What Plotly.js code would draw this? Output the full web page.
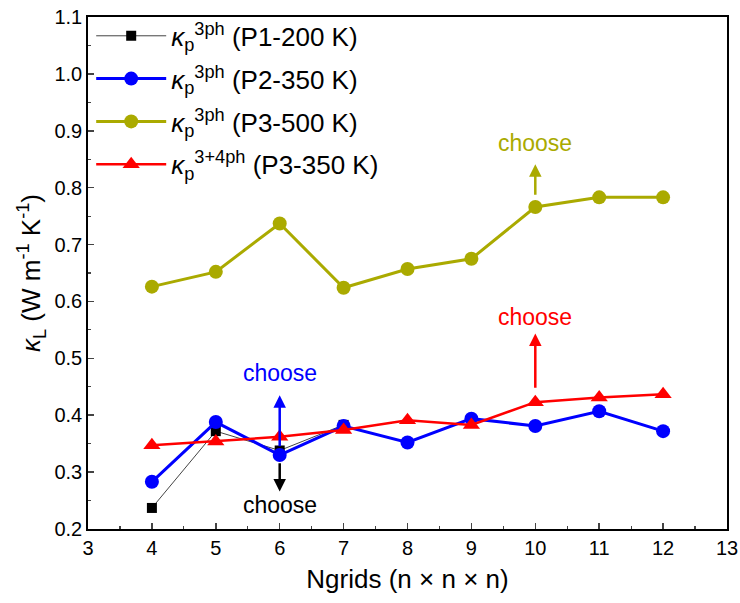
<!DOCTYPE html>
<html>
<head>
<meta charset="utf-8">
<script src="https://cdn.plot.ly/plotly-3.0.1.min.js"></script>
<style>html,body{margin:0;padding:0;background:#fff;}#chart{width:740px;height:603px;}</style>
</head>
<body>
<div id="chart"></div>
<script>
// Data
const nBlack = [4, 5, 6, 7];
const kP1_200K = [0.237, 0.372, 0.338, 0.383];
const nGrid = [4, 5, 6, 7, 8, 9, 10, 11, 12];
const kP2_350K = [0.283, 0.388, 0.330, 0.381, 0.352, 0.394, 0.381, 0.407, 0.372];
const kP3_500K = [0.626, 0.652, 0.737, 0.624, 0.657, 0.675, 0.766, 0.783, 0.783];
const kP3_350K_34 = [0.347, 0.354, 0.362, 0.374, 0.391, 0.383, 0.423, 0.431, 0.437];
const seriesNames = [
  '<i>κ</i><sub>p</sub><sup>3ph</sup> (P1-200 K)',
  '<i>κ</i><sub>p</sub><sup>3ph</sup> (P2-350 K)',
  '<i>κ</i><sub>p</sub><sup>3ph</sup> (P3-500 K)',
  '<i>κ</i><sub>p</sub><sup>3+4ph</sup> (P3-350 K)'
];
const xTickVals = [3, 4, 5, 6, 7, 8, 9, 10, 11, 12, 13];
const yTickVals = [0.2, 0.3, 0.4, 0.5, 0.6, 0.7, 0.8, 0.9, 1.0, 1.1];

const FONT = 'Liberation Sans, Arial, sans-serif';
const OLIVE = '#aaaa00';

const traces = [
  {x: nBlack, y: kP1_200K, name: seriesNames[0], legendgroup: 'a', mode: 'lines+markers',
   line: {color: '#444444', width: 1}, marker: {symbol: 'square', size: 10, color: '#000000'}},
  {x: nGrid, y: kP2_350K, name: seriesNames[1], legendgroup: 'b', mode: 'lines+markers',
   line: {color: '#0000ff', width: 3}, marker: {symbol: 'circle', size: 14, color: '#0000ff'}},
  {x: nGrid, y: kP3_500K, name: seriesNames[2], legendgroup: 'c', mode: 'lines+markers',
   line: {color: OLIVE, width: 3}, marker: {symbol: 'circle', size: 14, color: OLIVE}},
  {x: nGrid, y: kP3_350K_34, name: seriesNames[3], legendgroup: 'd', mode: 'lines+markers',
   line: {color: '#ff0000', width: 2.5}, marker: {symbol: 'triangle-up', size: 15, color: '#ff0000'}}
];

function arrow(x, yTail, yTip, color) {
  return {x: x, y: yTip, xref: 'x', yref: 'y', ax: x, ay: yTail, axref: 'x', ayref: 'y',
          text: '', showarrow: true, arrowhead: 2, arrowsize: 1, arrowwidth: 2.5, arrowcolor: color, standoff: 0};
}
function label(x, y, color) {
  return {x: x, y: y, xref: 'x', yref: 'y', text: 'choose', showarrow: false,
          font: {family: FONT, size: 23, color: color}};
}

const layout = {
  width: 740, height: 603,
  margin: {l: 88, r: 13, t: 14, b: 74},
  paper_bgcolor: '#ffffff', plot_bgcolor: '#ffffff',
  font: {family: FONT, size: 19, color: '#000000'},
  showlegend: true,
  legend: {x: 0.005, y: 1.009, xanchor: 'left', yanchor: 'top', bgcolor: 'rgba(0,0,0,0)',
           font: {family: FONT, size: 26, color: '#000'}, tracegroupgap: 6, itemwidth: 70},
  xaxis: {
    range: [3, 13], tickvals: xTickVals, ticks: 'inside', ticklen: 6, tickwidth: 1.5,
    showline: true, linewidth: 1.8, linecolor: '#000', mirror: true, showgrid: false, zeroline: false,
    minor: {ticks: 'inside', ticklen: 3, dtick: 0.5, tickwidth: 1.2, showgrid: false},
    tickfont: {size: 20},
    title: {text: 'Ngrids (n × n × n)', font: {size: 26}, standoff: 12}
  },
  yaxis: {
    range: [0.2, 1.1], tickvals: yTickVals, tickformat: '.1f', ticks: 'inside', ticklen: 6, tickwidth: 1.5,
    showline: true, linewidth: 1.8, linecolor: '#000', mirror: true, showgrid: false, zeroline: false,
    minor: {ticks: 'inside', ticklen: 3, dtick: 0.05, tickwidth: 1.2, showgrid: false},
    tickfont: {size: 20},
    title: {text: '<i>κ</i><sub>L</sub> (W m<sup>-1</sup> K<sup>-1</sup>)', font: {size: 26}, standoff: 6}
  },
  annotations: [
    arrow(10, 0.785, 0.841, OLIVE), label(10, 0.879, OLIVE),
    arrow(10, 0.4455, 0.5435, '#ff0000'), label(10, 0.572, '#ff0000'),
    arrow(6, 0.343, 0.435, '#0000ff'), label(6, 0.4735, '#0000ff'),
    arrow(6, 0.318, 0.266, '#000000'), label(6, 0.2425, '#000000')
  ]
};

Plotly.newPlot('chart', traces, layout, {displayModeBar: false, staticPlot: true});
</script>
</body>
</html>
